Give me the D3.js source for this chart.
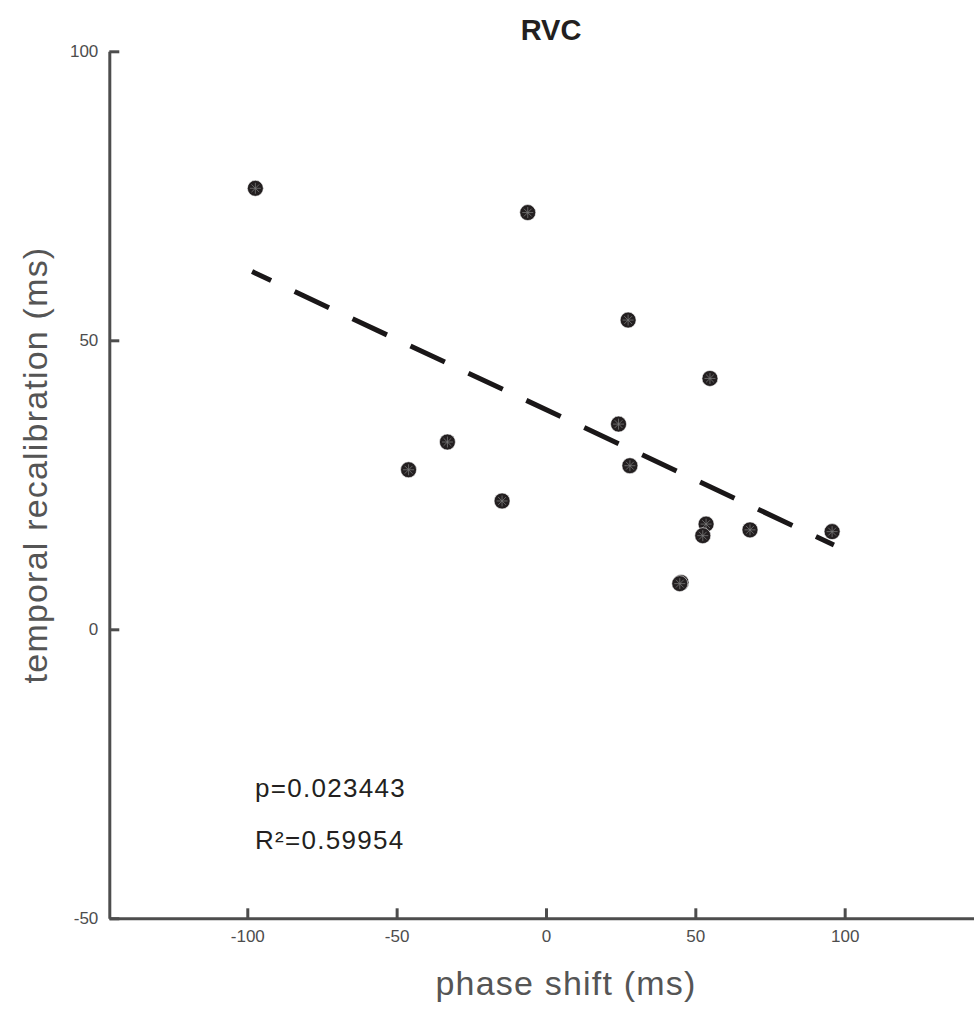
<!DOCTYPE html>
<html>
<head>
<meta charset="utf-8">
<script src="https://cdn.jsdelivr.net/npm/d3@7"></script>
<style>
  body { margin: 0; background: #fff; }
  svg { display: block; font-family: "Liberation Sans", Arial, sans-serif; }
</style>
</head>
<body>
<script>
// data
var phaseShift = [-97.3, -6.1, 27.5, 54.9, 24.3, -33.0, -46.0, 28.1, -14.7, 53.6, 52.5, 68.3, 95.8, 45.2, 44.8];
var recalib    = [ 76.3, 72.1, 53.5, 43.4, 35.5,  32.4,  27.6, 28.3,  22.2, 18.2, 16.2, 17.2, 16.9,  8.1,  7.9];
var fitX = [-98.4, 96.4];
var fitY = [61.9, 14.6];
var xTicks = [-100, -50, 0, 50, 100];
var yTicks = [-50, 0, 50, 100];
var title = "RVC";
var stats = ["p=0.023443", "R\u00b2=0.59954"];

var width = 974, height = 1013;
var axisColor = "#4d4d4d";

var svg = d3.select("body").append("svg")
    .attr("width", width)
    .attr("height", height);

var x = d3.scaleLinear().domain([-146.2, 143.3]).range([109.3, 974]);
var y = d3.scaleLinear().domain([-50, 100]).range([918.3, 51.3]);

// plain hyphen for negatives, like matlab
var tickFmt = function(d) { return String(d); };

// axes, ticks pointing inward
var xAxis = svg.append("g")
    .attr("transform", "translate(0," + y(-50) + ")")
    .call(d3.axisBottom(x).tickValues(xTicks).tickFormat(tickFmt)
        .tickSizeInner(-10).tickSizeOuter(0).tickPadding(11.7));

var yAxis = svg.append("g")
    .attr("transform", "translate(" + x(-146.2) + ",0)")
    .call(d3.axisLeft(y).tickValues(yTicks).tickFormat(tickFmt)
        .tickSizeInner(-10).tickSizeOuter(0).tickPadding(11));

[xAxis, yAxis].forEach(function(g) {
    g.select(".domain").attr("stroke", axisColor).attr("stroke-width", 3);
    g.selectAll(".tick line").attr("stroke", axisColor).attr("stroke-width", 3);
    g.selectAll(".tick text")
        .attr("fill", axisColor)
        .attr("font-size", 17)
        .attr("font-family", "Liberation Sans, Arial, sans-serif");
});

// regression line
svg.append("line")
    .attr("x1", x(fitX[0])).attr("y1", y(fitY[0]))
    .attr("x2", x(fitX[1])).attr("y2", y(fitY[1]))
    .attr("stroke", "#1a1718")
    .attr("stroke-width", 5)
    .attr("stroke-dasharray", "38,26")
    .attr("stroke-dashoffset", 17);

// points
var pts = phaseShift.map(function(v, i) { return { x: v, y: recalib[i] }; });

var dots = svg.selectAll(".dot")
    .data(pts)
    .enter().append("g")
    .attr("class", "dot")
    .attr("transform", function(d) { return "translate(" + x(d.x) + "," + y(d.y) + ")"; });

dots.append("circle")
    .attr("r", 8)
    .attr("fill", "#231f20")
    .attr("stroke", "#fff")
    .attr("stroke-width", 0.6);

// asterisk on top of each marker
dots.append("path")
    .attr("d", "M-5.5,0H5.5M0,-5.5V5.5M-3.9,-3.9L3.9,3.9M-3.9,3.9L3.9,-3.9")
    .attr("stroke", "#777")
    .attr("stroke-width", 0.8)
    .attr("fill", "none");

// texts
svg.append("text")
    .attr("x", 551).attr("y", 40)
    .attr("text-anchor", "middle")
    .attr("font-weight", "bold")
    .attr("font-size", 29)
    .attr("fill", "#231f20")
    .text(title);

svg.selectAll(".stat")
    .data(stats)
    .enter().append("text")
    .attr("class", "stat")
    .attr("x", 255)
    .attr("y", function(d, i) { return 797 + i * 51.5; })
    .attr("font-size", 26)
    .attr("letter-spacing", 1.3)
    .attr("fill", "#231f20")
    .text(function(d) { return d; });

svg.append("text")
    .attr("x", 566).attr("y", 995)
    .attr("text-anchor", "middle")
    .attr("font-size", 34)
    .attr("letter-spacing", 1.2)
    .attr("fill", "#555")
    .text("phase shift (ms)");

svg.append("text")
    .attr("transform", "translate(47,465) rotate(-90)")
    .attr("text-anchor", "middle")
    .attr("font-size", 34)
    .attr("letter-spacing", 1.2)
    .attr("fill", "#555")
    .text("temporal recalibration (ms)");
</script>
</body>
</html>
